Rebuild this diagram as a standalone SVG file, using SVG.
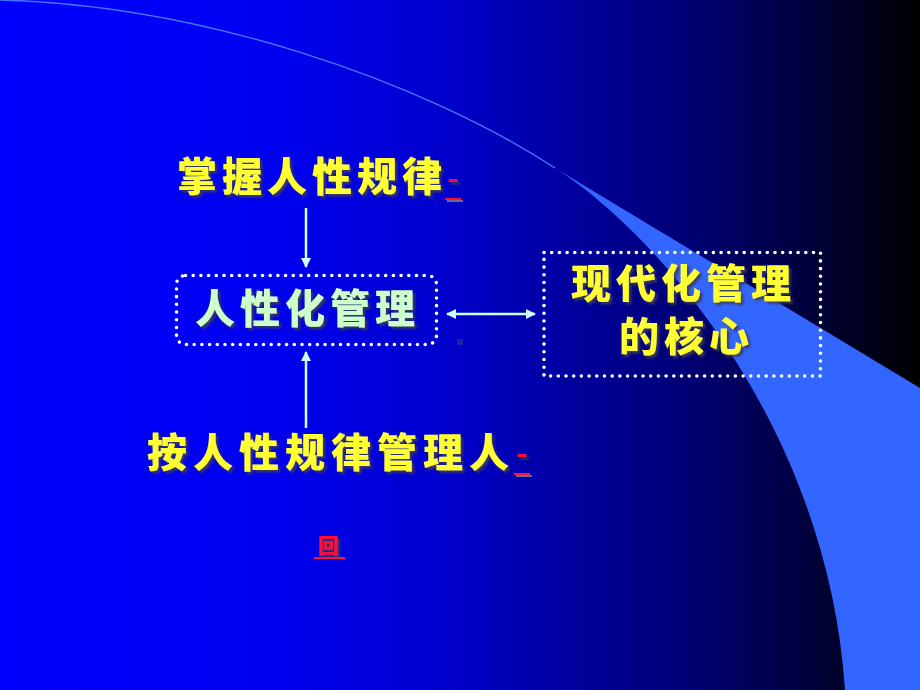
<svg xmlns="http://www.w3.org/2000/svg" width="920" height="690" viewBox="0 0 920 690">
  <defs>
    <linearGradient id="bg" x1="0" y1="0" x2="1" y2="0">
      <stop offset="0" stop-color="#0000FF"/>
      <stop offset="0.3" stop-color="#0000F0"/>
      <stop offset="0.5" stop-color="#0000C8"/>
      <stop offset="0.6" stop-color="#0000A5"/>
      <stop offset="0.76" stop-color="#000070"/>
      <stop offset="0.87" stop-color="#000040"/>
      <stop offset="1" stop-color="#000000"/>
    </linearGradient>
    <filter id="sh" x="-10%" y="-10%" width="130%" height="140%">
      <feDropShadow dx="2.5" dy="2.5" stdDeviation="0.8" flood-color="#3a3a5a" flood-opacity="0.9"/>
    </filter>
    <marker id="ah" viewBox="0 0 10 10" refX="9" refY="5" markerWidth="4" markerHeight="4" orient="auto-start-reverse" markerUnits="strokeWidth">
      <path d="M0,0 L10,5 L0,10 z" fill="#CCFFFF"/>
    </marker>
    <style>
      .t { font-family: "Noto Sans CJK SC", "Noto Sans CJK TC", sans-serif; font-weight: 900; font-size: 40px; letter-spacing: 5px; filter: url(#sh); }
      .y { fill: #FFFF33; }
      .g { fill: #CCFFCC; }
      .lnk { font-family: "Liberation Sans", "Noto Sans CJK SC", sans-serif; fill: #FF1133; filter: url(#sh); }
      .ul { stroke: #FF1133; stroke-width: 2; }
      .uls { stroke: #6a6a9a; stroke-width: 2; }
      .dot { fill: none; stroke: #FFFFFF; stroke-width: 3.6; stroke-linecap: round; stroke-dasharray: 0 7.7; }
      .arr { fill: none; stroke: #CCFFFF; stroke-width: 2.5; marker-end: url(#ah); }
    </style>
  </defs>

  <rect x="0" y="0" width="920" height="690" fill="url(#bg)"/>

  <g id="swoosh">
    <path d="M0,0 C200,5 420,80 555,168 L920,388 L920,690 L845,690 C828,430 660,235 555,168 C420,80 200,5 0,0 Z" fill="#3366FF"/>
    <path d="M0,0 C200,5 420,80 555,168" fill="none" stroke="#4477FF" stroke-width="1.4"/>
  </g>

  <g id="connectors">
    <path class="arr" d="M306,208 L306,267"/>
    <path class="arr" d="M306,428 L306,352"/>
    <path class="arr" d="M447,314 L535,314" marker-start="url(#ah)"/>
  </g>

  <g id="node-top">
    <text class="t y" x="177" y="191">掌握人性规律</text>
    <text class="lnk" x="447" y="190" font-size="36">-</text>
    <line class="uls" x1="447" y1="201" x2="463" y2="201"/>
    <line class="ul" x1="445" y1="199" x2="461" y2="199"/>
  </g>

  <g id="node-center">
    <rect class="dot" x="176.5" y="275.5" width="260" height="69" rx="9"/>
    <text class="t g" x="195" y="323">人性化管理</text>
  </g>

  <g id="node-right">
    <rect class="dot" x="544" y="252.5" width="276.5" height="123.5"/>
    <text class="t y" x="571" y="298">现代化管理</text>
    <text class="t y" x="619" y="351">的核心</text>
  </g>

  <g id="node-bottom">
    <text class="t y" x="147" y="467" style="letter-spacing:6px">按人性规律管理人</text>
    <text class="lnk" x="516" y="465" font-size="36">-</text>
    <line class="uls" x1="516" y1="476" x2="532" y2="476"/>
    <line class="ul" x1="514" y1="474" x2="530" y2="474"/>
  </g>

  <g id="back-link">
    <text class="lnk" x="318" y="553" font-size="21" font-weight="900">回</text>
    <line class="ul" x1="314" y1="558" x2="345" y2="558"/>
  </g>

  <rect x="457" y="339" width="6" height="6" fill="#1E22A8"/>
</svg>
